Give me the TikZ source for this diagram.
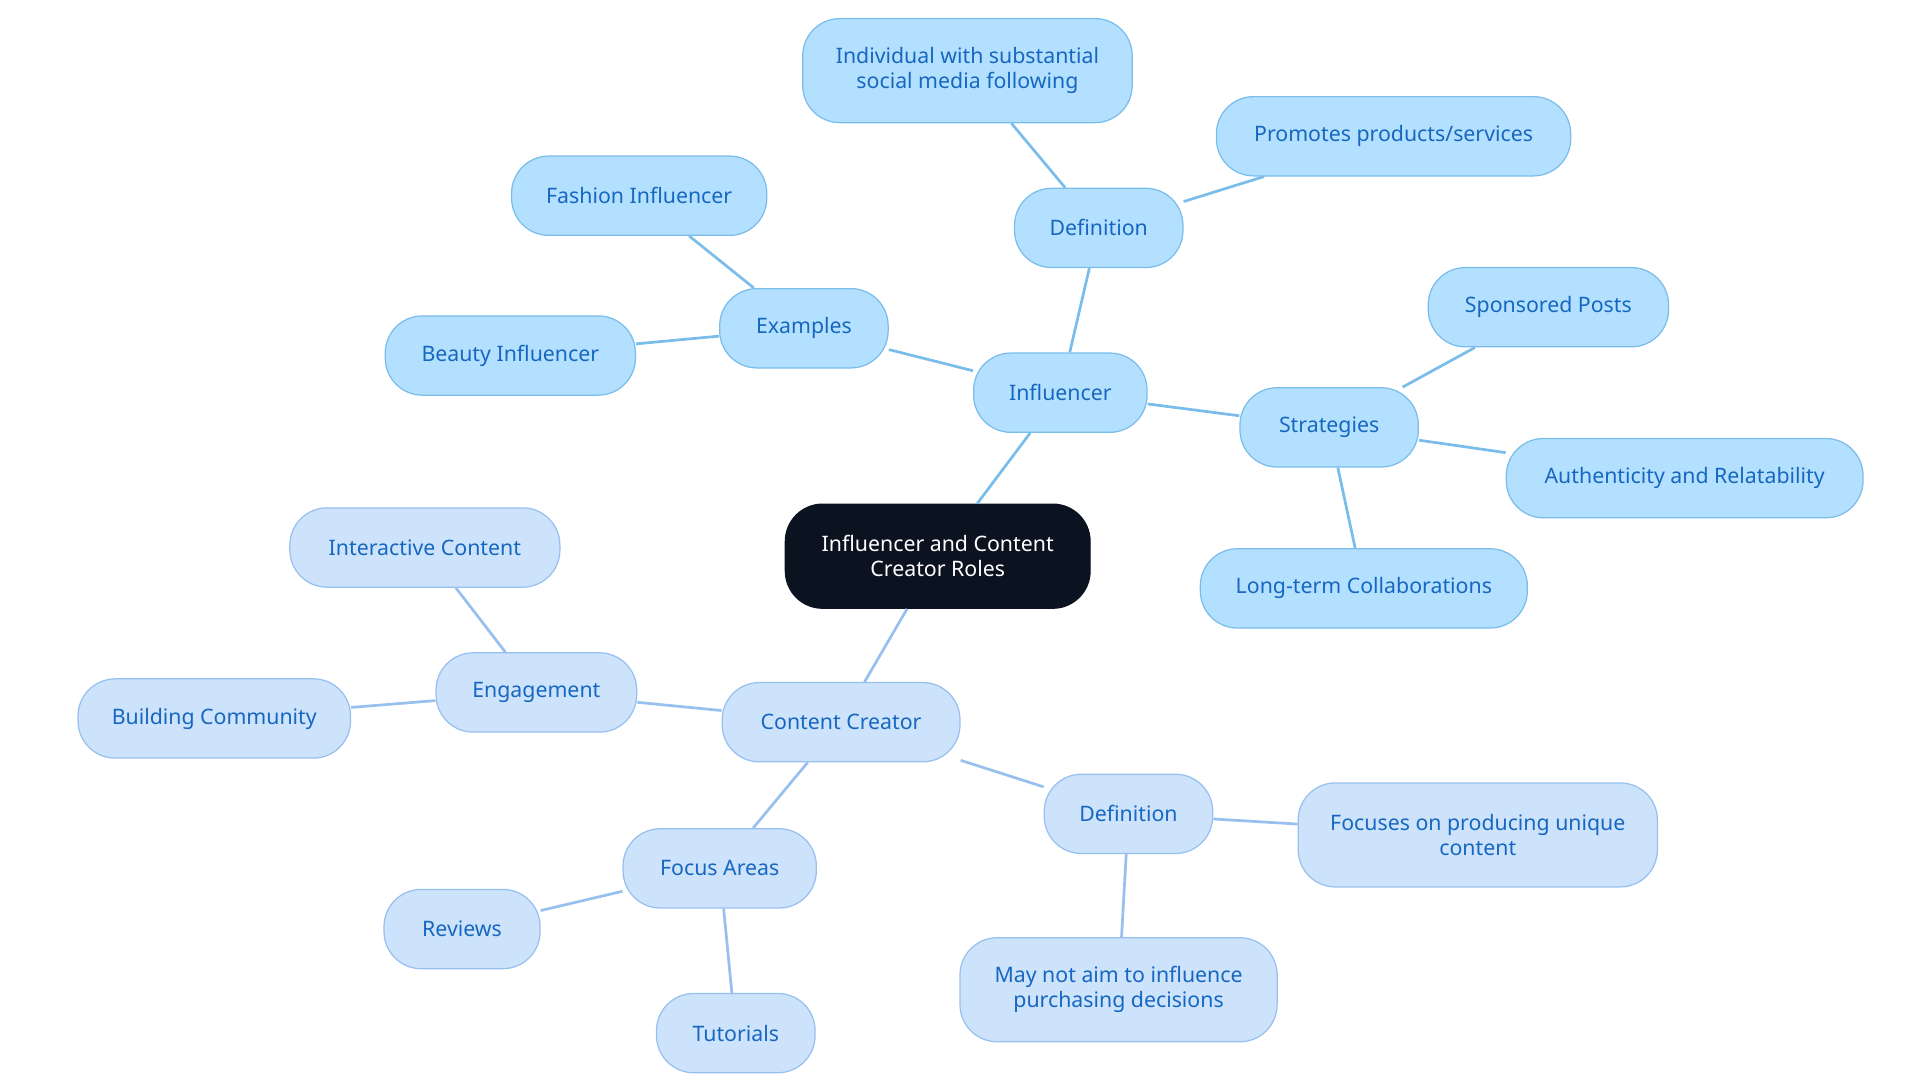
\documentclass[tikz,border=0pt]{standalone}
\usepackage{fontspec}
\setmainfont{Noto Sans}
\begin{document}
\begin{tikzpicture}[x=0.5pt,y=-0.5pt,
 base/.style={rounded corners=15pt,align=center,inner sep=0pt,font=\fontsize{8.6}{10}\selectfont,line width=0.5pt},
 inf/.style={base,fill=infFill,draw=infLine,text=txtBlue},
 cc/.style={base,fill=ccFill,draw=ccLine,text=txtBlue},
 rootst/.style={base,fill=rootFill,draw=rootFill,text=white},
 il/.style={draw=infLine,line width=1.1pt},
 cl/.style={draw=ccLine,line width=1.1pt}]
\definecolor{infFill}{HTML}{B3E0FF}
\definecolor{infLine}{HTML}{7ABDEB}
\definecolor{ccFill}{HTML}{CCE3FB}
\definecolor{ccLine}{HTML}{98C0EE}
\definecolor{txtBlue}{HTML}{1767C0}
\definecolor{rootFill}{HTML}{0B1220}
\useasboundingbox (0,0) rectangle (1550,874);
\newcommand{\nd}[7]{\node[#1,minimum width=#4*0.5pt,minimum height=#5*0.5pt] (#2) at (#3) {#6};}
\nd{rootst}{root}{757,449}{246}{84}{Influencer and Content\\Creator Roles}{}
\nd{inf}{inf}{856,317}{140}{64}{Influencer}{}
\nd{inf}{def1}{887,184}{136}{64}{Definition}{}
\nd{inf}{ind}{781,57}{266}{84}{Individual with substantial\\social media following}{}
\nd{inf}{prom}{1125,110}{286}{64}{Promotes products/services}{}
\nd{inf}{ex}{649,265}{136}{64}{Examples}{}
\nd{inf}{fash}{516,158}{206}{64}{Fashion Influencer}{}
\nd{inf}{beau}{412,287}{202}{64}{Beauty Influencer}{}
\nd{inf}{strat}{1073,345}{144}{64}{Strategies}{}
\nd{inf}{spon}{1250,248}{194}{64}{Sponsored Posts}{}
\nd{inf}{auth}{1360,386}{288}{64}{Authenticity and Relatability}{}
\nd{inf}{long}{1101,475}{264}{64}{Long-term Collaborations}{}
\nd{cc}{cc}{679,583}{192}{64}{Content Creator}{}
\nd{cc}{eng}{433,559}{162}{64}{Engagement}{}
\nd{cc}{inter}{343,442}{218}{64}{Interactive Content}{}
\nd{cc}{build}{173,580}{220}{64}{Building Community}{}
\nd{cc}{focus}{581,701}{156}{64}{Focus Areas}{}
\nd{cc}{rev}{373,750}{126}{64}{Reviews}{}
\nd{cc}{tut}{594,834}{128}{64}{Tutorials}{}
\nd{cc}{def2}{911,657}{136}{64}{Definition}{}
\nd{cc}{foc}{1193,674}{290}{84}{Focuses on producing unique\\content}{}
\nd{cc}{may}{903,799}{256}{84}{May not aim to influence\\purchasing decisions}{}
\begin{scope}[on background layer/.style={}]
\end{scope}
\path[il] (root) -- (inf) (inf) -- (def1) (def1) -- (ind) (def1) -- (prom)
 (inf) -- (ex) (ex) -- (fash) (ex) -- (beau) (inf) -- (strat) (strat) -- (spon)
 (strat) -- (auth) (strat) -- (long);
\path[cl] (root) -- (cc) (cc) -- (eng) (eng) -- (inter) (eng) -- (build)
 (cc) -- (focus) (focus) -- (rev) (focus) -- (tut) (cc) -- (def2) (def2) -- (foc) (def2) -- (may);
\end{tikzpicture}
\end{document}
